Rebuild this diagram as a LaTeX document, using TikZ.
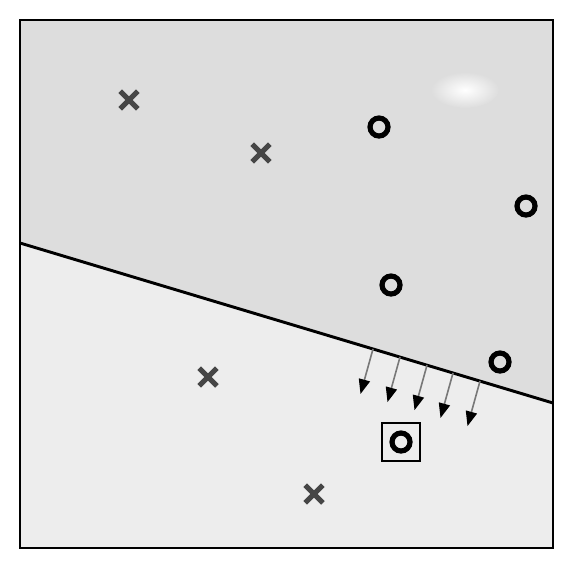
\documentclass[tikz,border=0pt]{standalone}
\usetikzlibrary{shapes.misc,arrows.meta,calc}
\definecolor{upgray}{RGB}{221,221,221}
\definecolor{lowgray}{RGB}{237,237,237}
\definecolor{crossgray}{RGB}{70,70,70}
\definecolor{shaftgray}{RGB}{120,120,120}
\tikzset{
  xmark/.style={cross out, draw=crossgray, line width=3.8pt, minimum size=9.5pt, inner sep=0pt},
  omark/.style={circle, draw=black, line width=3.9pt, minimum size=13.5pt, inner sep=0pt},
  highlight/.style={rectangle, draw=black, line width=1.1pt, minimum size=28.5pt, inner sep=0pt},
  normalarrow/.style={draw=shaftgray, line width=1.2pt, -{Triangle[length=11pt,width=8.5pt,black]}},
  boundary/.style={draw=black, line width=2.2pt},
}
\begin{document}
\begin{tikzpicture}[x=0.75pt,y=-0.75pt]
\useasboundingbox (0,0) rectangle (580,569);
\fill[white] (0,0) rectangle (580,569);
% regions
\coordinate (TL) at (20,20);
\coordinate (TR) at (553,20);
\coordinate (BR) at (553,548);
\coordinate (BL) at (20,548);
\coordinate (L) at (20,243);
\coordinate (R) at (553,403);
\fill[upgray] (TL) -- (TR) -- (R) -- (L) -- cycle;
\fill[lowgray] (L) -- (R) -- (BR) -- (BL) -- cycle;
\shade[inner color=white, outer color=upgray] (465,90) ellipse (34 and 18);
% separating line
\draw[boundary] (L) -- (R);
% frame
\draw[black, line width=1.6pt] (TL) rectangle (BR);
% crosses
\node[xmark] (x1) at (129,100) {};
\node[xmark] (x2) at (261,153) {};
\node[xmark] (x3) at (208,377) {};
\node[xmark] (x4) at (314,494) {};
% circles
\node[omark] (o1) at (379,127) {};
\node[omark] (o2) at (526,206) {};
\node[omark] (o3) at (391,285) {};
\node[omark] (o4) at (500,362) {};
\node[omark] (o5) at (401,442) {};
\node[highlight] (sq) at (o5) {};
% normal arrows
\foreach \i/\xs in {1/373,2/400,3/427,4/453,5/480}{
  \coordinate (s\i) at ($(L)!{(\xs-20)/533}!(R)$);
  \coordinate (e\i) at ($(s\i)+(-12.5,45)$);
  \draw[normalarrow] (s\i) -- (e\i);
}
\end{tikzpicture}
\end{document}
